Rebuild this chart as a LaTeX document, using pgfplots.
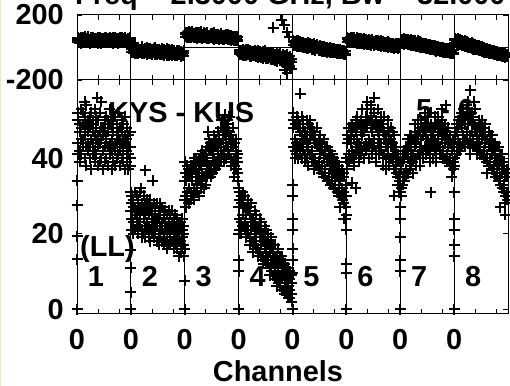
\documentclass[border=0pt]{standalone}
\usepackage{pgfplots}
\usepackage{pgfplotstable}
\pgfplotsset{compat=1.18}
\usepackage{fontspec}
\setmainfont{Liberation Sans}

% channel-by-channel spectrum: x = 64*IF + channel, four amplitude and three phase records
\pgfplotstableread{
x a1 a2 a3 a4 p1 p2 p3
1 50 44 52 41 61 34 49
3 42 47 39 49 28 54 42
5 48 41 53 45 52 26 60
7 45 52 43 49 39 64 31
9 51 40 46 48 66 41 30
11 43 49 38 54 33 57 47
13 47 42 50 44 55 30 65
15 40 48 51 43 26 50 37
17 49 45 37 52 60 35 48
19 44 50 41 47 41 62 29
21 46 39 53 42 53 31 58
23 41 48 45 51 36 55 44
25 50 43 38 46 64 40 27
27 39 47 52 44 30 51 61
29 45 55 40 48 48 25 56
31 48 42 46 37 57 43 32
33 43 50 39 47 29 60 45
35 46 40 51 44 51 35 63
37 38 47 43 50 40 58 28
39 49 44 41 53 62 32 50
41 42 48 37 45 34 53 41
43 47 39 50 43 56 27 59
45 44 51 42 38 38 63 46
47 40 46 49 44 49 31 57
49 45 41 52 47 27 55 40
51 42 48 38 45 59 37 52
53 47 40 44 50 43 61 30
55 39 45 49 42 54 29 47
57 44 37 46 51 35 58 63
59 48 42 39 45 50 39 26
61 41 46 43 37 32 56 48
63 43 38 47 40 45 60 34
65 30 24 28 21 -2 -30 -12
67 23 29 20 27 -33 -8 -22
69 27 21 31 25 -11 -37 0
71 24 30 22 26 -26 3 -34
73 29 20 26 23 0 -22 -38
75 22 27 31 24 -31 -12 -20
77 26 21 28 19 -8 -40 4
79 20 27 24 30 -40 -15 -29
81 28 22 25 19 -5 -33 -18
83 23 29 21 26 -27 -2 -42
85 25 19 28 22 -14 -36 -6
87 21 26 18 29 -38 -20 -9
89 27 23 20 25 -12 -44 -26
91 19 24 28 22 -32 -7 -23
93 25 20 23 27 -18 -41 -1
95 22 28 18 24 -45 -24 -13
97 26 20 24 17 -10 -31 -37
99 19 25 22 28 -35 -16 -46
101 23 18 27 21 -21 -43 -5
103 24 20 17 26 -48 -12 -30
105 18 23 26 21 -16 -39 -25
107 25 19 22 16 -36 -9 -47
109 21 26 17 23 -22 -50 -14
111 17 22 25 20 -42 -19 -33
113 23 18 21 26 -11 -37 -49
115 19 24 16 22 -45 -24 -18
117 22 17 25 20 -28 -52 -35
119 16 21 24 19 -49 -21 -40
121 23 18 20 14 -17 -44 -30
123 18 23 15 21 -39 -55 -25
125 21 16 24 19 -52 -29 -44
127 17 22 14 20 -33 -50 -21
129 36 30 34 27 92 66 84
131 29 35 31 38 64 95 72
133 35 28 37 32 86 61 99
135 31 38 29 35 70 93 60
137 38 30 34 36 97 74 65
139 32 37 29 40 62 88 79
141 37 31 40 34 85 59 94
143 33 39 31 36 68 90 57
145 40 34 37 30 92 73 64
147 34 41 32 38 61 84 96
149 39 33 42 36 81 55 70
151 35 41 32 39 63 90 76
153 42 36 39 33 87 60 72
155 37 43 35 40 56 80 93
157 42 36 45 38 76 54 66
159 38 44 35 42 89 62 78
161 44 39 42 36 58 84 70
163 40 46 37 43 74 51 91
165 45 39 43 37 60 79 53
167 41 47 38 44 82 57 71
169 46 40 44 38 52 76 63
171 41 48 44 39 79 56 88
173 47 41 45 50 65 48 74
175 42 48 39 46 50 73 61
177 49 43 46 40 77 54 67
179 43 50 41 47 58 81 47
181 47 41 45 51 71 50 64
183 40 46 43 38 53 76 45
185 45 39 43 48 68 47 62
187 38 44 40 35 44 67 55
189 42 37 40 45 60 41 70
191 36 41 34 39 48 66 42
193 31 24 29 21 -18 -42 -27
195 23 30 20 28 -45 -21 -33
197 28 22 31 25 -25 -50 -15
199 21 27 23 30 -47 -20 -38
201 27 19 25 22 -14 -37 -52
203 20 26 29 22 -43 -28 -12
205 25 19 27 17 -30 -56 -20
207 18 24 21 28 -55 -24 -41
209 24 18 22 15 -22 -48 -35
211 17 23 20 26 -52 -31 -16
213 22 16 25 19 -27 -58 -40
215 16 22 14 21 -49 -19 -62
217 21 15 19 24 -34 -57 -24
219 14 20 17 23 -60 -30 -45
221 20 14 18 12 -26 -51 -68
223 13 19 16 22 -58 -36 -20
225 18 12 21 15 -42 -66 -31
227 12 17 14 20 -70 -39 -53
229 17 11 15 9 -33 -61 -47
231 10 16 13 19 -64 -28 -75
233 15 9 17 12 -48 -72 -36
235 8 14 11 17 -77 -44 -58
237 14 9 12 6 -37 -66 -85
239 7 13 10 16 -70 -45 -59
241 12 6 14 9 -52 -82 -40
243 5 11 8 14 -88 -55 -68
245 11 5 9 13 -46 -75 -95
247 4 10 7 12 -80 -50 -66
249 9 4 11 6 -58 -92 -42
251 3 9 6 11 -100 -62 -78
253 8 3 10 5 -55 -85 -115
255 2 7 4 9 -90 -130 -68
257 50 43 48 52 40 15 33
259 42 49 45 40 12 38 22
261 49 44 51 41 35 6 44
263 43 48 40 50 18 42 9
265 47 41 49 44 38 20 4
267 40 46 51 43 7 30 19
269 48 42 45 50 32 1 24
271 41 47 39 45 0 26 10
273 46 40 50 43 27 -5 15
275 42 49 44 38 5 33 -8
277 47 41 45 50 22 -3 11
279 39 46 42 48 -10 16 3
281 45 40 47 37 17 -13 25
283 38 44 40 46 -6 12 -19
285 44 38 43 48 19 -9 3
287 37 43 39 45 -16 8 -4
289 43 37 41 46 10 -20 0
291 36 42 38 44 -14 6 -26
293 41 35 40 45 5 -24 -8
295 35 41 37 43 -22 -1 -12
297 40 34 39 43 2 -28 -9
299 34 39 36 42 -25 -5 -16
301 39 33 37 42 -2 -30 -14
303 33 38 35 41 -29 -8 -20
305 38 32 36 40 -6 -33 -17
307 32 37 34 39 -31 -12 -24
309 37 31 35 39 -10 -36 -22
311 30 36 33 38 -34 -14 -27
313 36 30 34 27 -13 -38 -24
315 29 35 32 37 -37 -17 -30
317 35 28 31 36 -20 -41 -26
319 27 33 30 24 -39 -22 -44
321 46 39 44 37 60 35 52
323 39 45 41 48 33 58 44
325 46 40 48 44 55 28 62
327 40 47 42 49 38 60 30
329 48 41 45 38 62 40 29
331 41 47 43 50 28 52 45
333 48 42 51 45 50 24 60
335 42 49 44 39 31 55 22
337 50 43 47 41 53 34 26
339 42 49 53 46 22 47 38
341 49 43 47 40 48 20 56
343 44 51 42 48 26 51 35
345 50 43 48 53 45 18 31
347 43 50 45 40 21 44 52
349 51 44 48 54 42 15 29
351 44 50 41 47 24 48 34
353 49 43 52 45 38 12 27
355 42 48 39 50 17 40 32
357 49 44 47 53 35 10 46
359 43 49 41 46 14 38 22
361 48 42 51 44 31 8 40
363 41 47 38 49 12 36 19
365 47 41 45 51 30 4 23
367 40 46 43 37 9 31 16
369 47 41 44 50 26 2 35
371 40 45 38 47 7 29 13
373 45 40 48 43 24 -2 17
375 39 44 41 47 3 27 10
377 43 37 41 46 21 -4 14
379 36 41 38 43 0 23 5
381 41 35 39 33 18 -6 11
383 34 39 36 31 -3 20 6
385 39 32 37 30 52 27 44
387 33 39 35 41 24 50 36
389 40 34 42 36 46 20 55
391 35 41 37 43 30 52 22
393 42 36 40 45 51 30 19
395 37 43 39 46 17 42 34
397 44 38 46 41 38 13 49
399 39 45 41 36 20 44 10
401 46 40 43 49 40 19 12
403 40 46 38 44 8 33 24
405 47 41 45 50 34 6 42
407 41 47 43 38 12 37 3
409 48 42 50 45 31 2 19
411 42 48 40 46 0 26 13
413 49 43 47 52 27 -2 9
415 43 49 41 46 -4 22 15
417 48 42 51 45 19 -8 5
419 42 48 44 39 -6 20 -12
421 49 43 46 52 15 -10 6
423 43 48 40 46 -11 12 -3
425 48 42 51 45 10 -16 -1
427 42 49 44 39 -14 7 -22
429 48 43 46 51 5 -20 -9
431 41 47 43 49 -18 3 -26
433 47 41 45 50 0 -23 -11
435 40 46 42 48 -22 -2 -30
437 46 40 44 49 -5 -28 -15
439 39 45 41 47 -26 -6 -33
441 45 39 43 48 -8 -30 -19
443 38 44 40 46 -29 -10 -36
445 44 38 42 35 -13 -34 -22
447 37 43 39 45 -32 -16 -40
449 47 40 45 38 53 28 44
451 41 47 43 49 25 50 36
453 48 42 50 45 45 18 53
455 42 49 44 51 26 48 19
457 50 43 48 52 46 24 14
459 44 50 46 53 12 36 28
461 51 45 49 43 33 7 41
463 45 52 47 54 13 35 4
465 51 44 49 55 31 8 -2
467 44 50 46 41 -1 24 12
469 50 44 52 47 22 -6 30
471 43 49 45 51 0 25 -12
473 49 43 47 53 18 -11 6
475 43 48 41 46 -14 11 -4
477 48 42 50 45 12 -17 -1
479 41 47 43 49 -20 5 -8
481 47 41 45 50 5 -23 -11
483 40 46 42 48 -24 0 -32
485 46 40 44 49 -4 -30 -14
487 39 45 41 36 -31 -9 -20
489 44 38 43 47 -10 -35 -19
491 38 43 40 46 -36 -14 -25
493 43 37 41 46 -17 -40 -28
495 36 42 38 44 -42 -20 -30
497 41 35 39 44 -25 -46 -34
499 35 40 37 43 -47 -26 -38
501 40 34 38 43 -30 -52 -39
503 33 39 35 41 -50 -32 -44
505 38 32 36 41 -36 -56 -43
507 31 37 33 39 -55 -38 -50
509 36 30 35 28 -41 -60 -35
511 29 35 31 37 -58 -44 -52
}\spectrum

% first channel of every IF: low and scattered amplitudes
\pgfplotstableread{
x a
0 34
0 27.5
0 19.3
0 13.2
0 0
64 31
64 26
64 15.6
64 11
64 4.5
64 0
128 39
128 34
128 29
128 16
128 7.5
128 0
192 32
192 27
192 20
192 13
192 10
192 0
256 33
256 30
256 24
256 21
256 16
256 13
256 9.5
256 0
320 40
320 33
320 30
320 25
320 21
320 12
320 9.5
320 0
384 39
384 33
384 31
384 27
384 24
384 19
384 13
384 10
384 0
448 31
448 24
448 21
448 17
448 14
448 0
}\edgeamp

% isolated amplitude records
\pgfplotstableread{
x a
24 56
9 55
81 36.8
90 34
76 32
156 47
176 51.5
172 50
265 57
312 27
317 24
345 55
353 56
327 33.5
331 32
377 30
433 53
438 54
420 31
467 58
472 55
503 27
509 25
}\outamp

% isolated phase records near the end of IF 4
\pgfplotstableread{
x p
233 120
243 170
246 140
250 95
252 65
247 -138
250 -157
253 -120
}\outph

\newcommand{\lbl}{\fontsize{29}{29}\selectfont\bfseries}

\pgfplotsset{
  possm/.style={
    scale only axis, width=431bp,
    xmin=0, xmax=512,
    clip=false,
    axis line style={line width=1bp},
    every tick/.style={black, line width=0.8bp},
    major tick length=5bp, minor tick length=5bp,
    xtick={0,64,...,448},
    minor xtick={25,50,89,114,153,178,217,242,281,306,345,370,409,434,473,498},
    xmajorgrids, major grid style={black, line width=1bp},
    tick label style={font=\lbl},
    yticklabel style={anchor=east, inner sep=0pt, xshift=-13bp},
    xticklabel style={anchor=north, inner sep=0pt, yshift=-15bp},
  },
  cross/.style={only marks, mark=+, mark size=5.5bp,
    every mark/.append style={line width=2bp, black}},
}

\begin{document}
\begin{tikzpicture}
\fill[white] (0,0) rectangle (510bp,386bp);
\draw[line width=1bp, color={rgb,255:red,226;green,238;blue,206}] (0.5bp,0) -- (0.5bp,386bp);

% title line
\node[anchor=base west, inner sep=0pt, font=\lbl] at (75bp,381.5bp)
  {Freq = 2.3000 GHz, Bw = 32.000 MHz};

% labels set beneath the amplitude records
\node[anchor=base west, inner sep=0pt, font=\lbl] at (108bp,263bp) {KYS - KUS};
\node[anchor=base west, inner sep=0pt, font=\lbl] at (416bp,266bp) {5 - 6};
\node[anchor=base west, inner sep=0pt, font=\lbl] at (80bp,129bp) {(LL)};
\foreach \k in {1,...,8}{
  \node[anchor=base, inner sep=0pt, font=\lbl] at ({96bp+53.875bp*(\k-1)},99bp) {\k};
}
\node[anchor=base, inner sep=0pt, font=\lbl] at (278bp,5bp) {Channels};

% phase panel
\begin{axis}[possm, at={(77bp,306bp)}, anchor=south west, height=65bp,
  ymin=-200, ymax=200, ytick={-200,200}, yticklabels={-200,200},
  xticklabels={}]
  \draw[line width=1bp] (axis cs:0,0) -- (axis cs:512,0);
  \addplot[cross, line width=2bp] table[x=x, y=p1] {\spectrum};
  \addplot[cross, line width=2bp] table[x=x, y=p2] {\spectrum};
  \addplot[cross, line width=2bp] table[x=x, y=p3] {\spectrum};
  \addplot[cross, line width=2bp] table[x=x, y=p] {\outph};
\end{axis}

% amplitude panel
\begin{axis}[possm, at={(77bp,72bp)}, anchor=south west, height=234bp,
  ymin=-1.3, ymax=60.7, ytick={0,20,40}, yticklabels={0,20,40},
  xticklabels={0,0,0,0,0,0,0,0}]
  \addplot[cross, line width=2bp] table[x=x, y=a1] {\spectrum};
  \addplot[cross, line width=2bp] table[x=x, y=a2] {\spectrum};
  \addplot[cross, line width=2bp] table[x=x, y=a3] {\spectrum};
  \addplot[cross, line width=2bp] table[x=x, y=a4] {\spectrum};
  \addplot[cross, line width=2bp] table[x=x, y=a] {\edgeamp};
  \addplot[cross, line width=2bp] table[x=x, y=a] {\outamp};
\end{axis}

\pgfresetboundingbox
\useasboundingbox (0,0) rectangle (510bp,386bp);
\end{tikzpicture}
\end{document}
